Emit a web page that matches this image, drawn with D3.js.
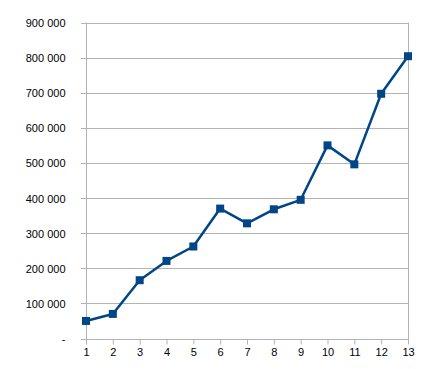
<!DOCTYPE html>
<html>
<head>
<meta charset="utf-8">
<script src="https://cdn.jsdelivr.net/npm/d3@7"></script>
<style>
  body { margin: 0; background: #fff; }
  svg text { font-family: "Liberation Sans", Arial, sans-serif; font-size: 11px; fill: #000; }
</style>
</head>
<body>
<div id="chart"></div>
<script>
// data
var categories = [1, 2, 3, 4, 5, 6, 7, 8, 9, 10, 11, 12, 13];
var values = [50000, 70000, 166000, 221000, 262000, 370000, 328000, 368000, 395000, 550000, 496000, 697000, 804000];
var yTicks = [0, 100000, 200000, 300000, 400000, 500000, 600000, 700000, 800000, 900000];

var width = 444;
var height = 369;
var margin = {top: 22.5, right: 36, bottom: 30.5, left: 86};

var svg = d3.select("#chart")
  .append("svg")
  .attr("width", width)
  .attr("height", height);

var xScale = d3.scalePoint()
  .domain(categories)
  .range([margin.left, width - margin.right]);

var yScale = d3.scaleLinear()
  .domain([0, 900000])
  .range([height - margin.bottom, margin.top]);

var fmt = function(d) {
  if (d === 0) return "-";
  return d3.format(",")(d).replace(/,/g, " ");
};

// gridlines
svg.append("g")
  .selectAll("line")
  .data(yTicks)
  .enter()
  .append("line")
  .attr("x1", margin.left - 5)
  .attr("x2", width - margin.right)
  .attr("y1", function(d) { return Math.round(yScale(d)) + 0.5; })
  .attr("y2", function(d) { return Math.round(yScale(d)) + 0.5; })
  .attr("stroke", "#b3b3b3")
  .attr("stroke-width", 1);

// y axis
var yAxis = d3.axisLeft(yScale)
  .tickValues(yTicks)
  .tickSize(0)
  .tickPadding(21)
  .tickFormat(fmt);

var gy = svg.append("g")
  .attr("transform", "translate(" + (margin.left + 0.5) + ",0.5)")
  .call(yAxis);
gy.select(".domain").remove();

svg.append("line")
  .attr("x1", margin.left + 0.5)
  .attr("x2", margin.left + 0.5)
  .attr("y1", margin.top)
  .attr("y2", height - margin.bottom + 5)
  .attr("stroke", "#b3b3b3");

svg.append("line")
  .attr("x1", width - margin.right + 0.5)
  .attr("x2", width - margin.right + 0.5)
  .attr("y1", margin.top)
  .attr("y2", height - margin.bottom + 5)
  .attr("stroke", "#b3b3b3");

// x axis
var xAxis = d3.axisBottom(xScale)
  .tickSize(5)
  .tickPadding(4);

var gx = svg.append("g")
  .attr("transform", "translate(0," + (Math.round(yScale(0)) + 0.5) + ")")
  .call(xAxis);
gx.select(".domain").remove();
gx.selectAll(".tick line").attr("stroke", "#b3b3b3");

// line
var line = d3.line()
  .x(function(d, i) { return xScale(categories[i]); })
  .y(function(d) { return yScale(d); });

svg.append("path")
  .datum(values)
  .attr("d", line)
  .attr("fill", "none")
  .attr("stroke", "#004586")
  .attr("stroke-width", 2.5)
  .attr("stroke-linejoin", "round");

// markers
var markerSize = 8;
svg.selectAll("rect.marker")
  .data(values)
  .enter()
  .append("rect")
  .attr("class", "marker")
  .attr("x", function(d, i) { return xScale(categories[i]) - markerSize / 2; })
  .attr("y", function(d) { return yScale(d) - markerSize / 2; })
  .attr("width", markerSize)
  .attr("height", markerSize)
  .attr("fill", "#004586");
</script>
</body>
</html>
